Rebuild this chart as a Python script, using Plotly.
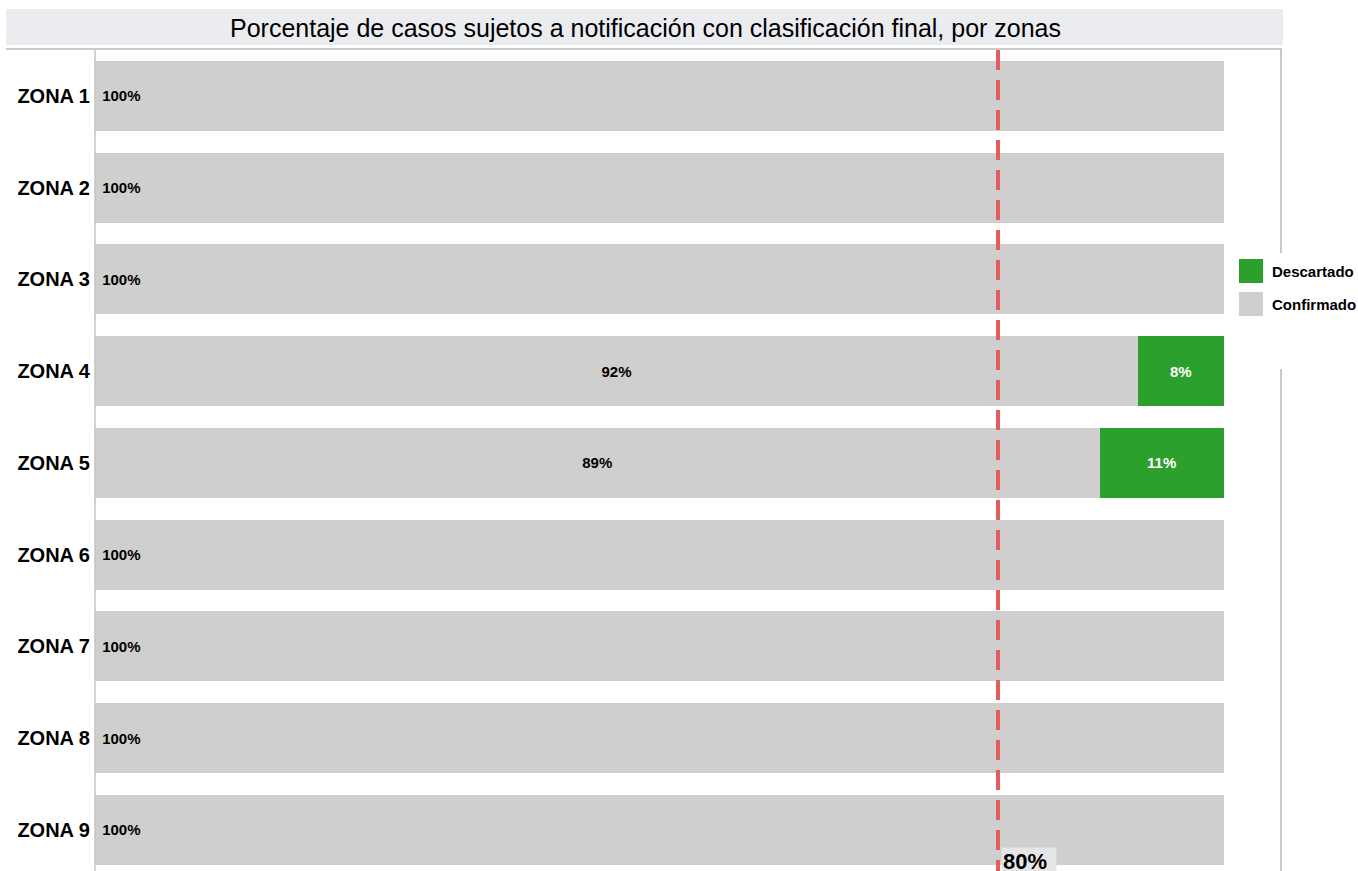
import plotly.graph_objects as go

zones = ["ZONA 1", "ZONA 2", "ZONA 3", "ZONA 4", "ZONA 5", "ZONA 6", "ZONA 7", "ZONA 8", "ZONA 9"]
confirmado = [100, 100, 100, 92.4, 89, 100, 100, 100, 100]
descartado = [0, 0, 0, 7.6, 11, 0, 0, 0, 0]
meta = 80
title_text = "Porcentaje de casos sujetos a notificación con clasificación final, por zonas"

GRAY = "#CFCFCF"
GREEN = "#2CA02C"
RED = "#E35D5D"
FONT = "Liberation Sans, Arial, sans-serif"

W, H = 1358, 871
L, R, T, B = 95, 77, 50, 0
pw, ph = W - L - R, H - T - B


def px_x(x):
    return (x - L) / pw


def px_y(y):
    return (H - B - y) / ph


full_y = [z for z, c in zip(zones, confirmado) if c >= 100]
full_x = [c for c in confirmado if c >= 100]
part_y = [z for z, c in zip(zones, confirmado) if c < 100]
part_x = [c for c in confirmado if c < 100]
desc_y = [z for z, d in zip(zones, descartado) if d > 0]
desc_x = [d for d in descartado if d > 0]

fig = go.Figure()
fig.add_trace(go.Bar(
    y=full_y, x=full_x, orientation="h", marker=dict(color=GRAY, line=dict(width=0)),
    text=full_x, texttemplate="\u00a0%{x:.0f}%", textposition="inside", insidetextanchor="start",
    textfont=dict(family=FONT, size=15, color="black", weight="bold"),
    constraintext="none", showlegend=False, hoverinfo="skip", name="Confirmado"))
fig.add_trace(go.Bar(
    y=part_y, x=part_x, orientation="h", marker=dict(color=GRAY, line=dict(width=0)),
    text=part_x, texttemplate="%{x:.0f}%", textposition="inside", insidetextanchor="middle",
    textfont=dict(family=FONT, size=15, color="black", weight="bold"),
    constraintext="none", showlegend=False, hoverinfo="skip", name="Confirmado"))
fig.add_trace(go.Bar(
    y=desc_y, x=desc_x, orientation="h", marker=dict(color=GREEN, line=dict(width=0)),
    text=desc_x, texttemplate="%{x:.0f}%", textposition="inside", insidetextanchor="middle",
    textfont=dict(family=FONT, size=15, color="white", weight="bold"),
    constraintext="none", showlegend=False, hoverinfo="skip", name="Descartado"))

shapes = [
    # title banner
    dict(type="rect", xref="paper", yref="paper", x0=px_x(6), x1=px_x(1283), y0=px_y(45), y1=px_y(9),
         fillcolor="#EBECF0", line=dict(width=0), layer="below"),
    # top border
    dict(type="line", xref="paper", yref="paper", x0=px_x(6), x1=px_x(1282), y0=px_y(49), y1=px_y(49),
         line=dict(color="#B8B8B8", width=1.5)),
    # right border (broken by legend)
    dict(type="line", xref="paper", yref="paper", x0=px_x(1281), x1=px_x(1281), y0=px_y(49), y1=px_y(253),
         line=dict(color="#B8B8B8", width=1.5)),
    dict(type="line", xref="paper", yref="paper", x0=px_x(1281), x1=px_x(1281), y0=px_y(369), y1=px_y(880),
         line=dict(color="#B8B8B8", width=1.5)),
    # left axis line
    dict(type="line", xref="paper", yref="paper", x0=0, x1=0, y0=px_y(50), y1=px_y(880),
         line=dict(color="#C4C4C4", width=1.5)),
    # target line
    dict(type="line", xref="x", yref="paper", x0=meta, x1=meta, y0=1, y1=px_y(880),
         line=dict(color=RED, width=4, dash="20px,10px"), layer="above"),
    # legend swatches
    dict(type="rect", xref="paper", yref="paper", x0=px_x(1239), x1=px_x(1263), y0=px_y(283), y1=px_y(259),
         fillcolor=GREEN, line=dict(width=0)),
    dict(type="rect", xref="paper", yref="paper", x0=px_x(1239), x1=px_x(1263), y0=px_y(316), y1=px_y(292),
         fillcolor=GRAY, line=dict(width=0)),
]

annotations = [
    dict(text=title_text, xref="paper", yref="paper", x=px_x(645), y=px_y(28), xanchor="center",
         yanchor="middle", showarrow=False, font=dict(family=FONT, size=25, color="black")),
    dict(text="Descartado", xref="paper", yref="paper", x=px_x(1270), y=px_y(271), xanchor="left",
         yanchor="middle", showarrow=False, font=dict(family=FONT, size=15, color="black", weight="bold")),
    dict(text="Confirmado", xref="paper", yref="paper", x=px_x(1270), y=px_y(304), xanchor="left",
         yanchor="middle", showarrow=False, font=dict(family=FONT, size=15, color="black", weight="bold")),
    dict(text=f"{meta}%", xref="x", yref="paper", x=meta, xshift=3, y=px_y(847), xanchor="left",
         yanchor="top", showarrow=False, bgcolor="#E6E6E6", borderpad=1, width=52, align="left",
         font=dict(family=FONT, size=22, color="black", weight="bold")),
]

xmax = 100 * (1281 - L) / (998 - L) * meta / 100
fig.update_layout(
    width=W, height=H, barmode="stack", bargap=0.237,
    margin=dict(l=L, r=R, t=T, b=B, autoexpand=False),
    plot_bgcolor="white", paper_bgcolor="white",
    shapes=shapes, annotations=annotations,
    xaxis=dict(range=[0, xmax], visible=False, showgrid=False, zeroline=False, fixedrange=True),
    yaxis=dict(categoryorder="array", categoryarray=zones, range=[8.448, -0.5],
               showgrid=False, zeroline=False, showline=False, ticks="", automargin=False,
               ticklabelstandoff=4,
               tickfont=dict(family=FONT, size=20, color="black", weight="bold")),
    showlegend=False,
)

fig.write_html("out.html", config={"displayModeBar": False},
               post_script="document.body.style.margin='0';")
